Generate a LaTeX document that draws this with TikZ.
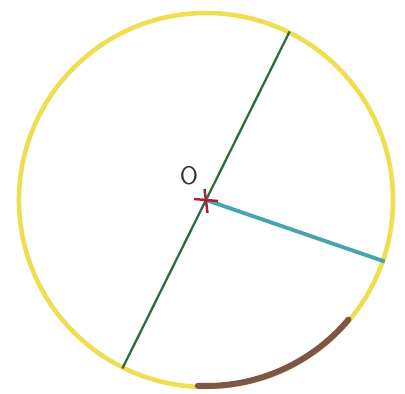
\documentclass[tikz,border=0pt]{standalone}
\usepackage{tikz}
\usetikzlibrary{positioning,calc}

\definecolor{pencilyellow}{RGB}{238,222,80}
\definecolor{pencilgreen}{RGB}{40,110,60}
\definecolor{pencilcyan}{RGB}{70,165,175}
\definecolor{pencilbrown}{RGB}{125,85,75}
\definecolor{pencilred}{RGB}{165,35,55}

\begin{document}
\begin{tikzpicture}[
    rim/.style={draw=pencilyellow, line width=2.6pt},
    diameter/.style={draw=pencilgreen, line width=1.3pt},
    radius/.style={draw=pencilcyan, line width=2.2pt},
    arcpart/.style={draw=pencilbrown, line width=3.4pt, line cap=round},
    centremark/.style={draw=pencilred, line width=1.4pt},
    label/.style={font=\sffamily\Large, text=black!80}
  ]

  \useasboundingbox (-4.12,-3.88) rectangle (3.98,4.0);

  % Centre and circle
  \coordinate (O) at (0,0);
  \draw[rim] (O) circle (3.74);

  % Points on the circle
  \coordinate (d1) at (63.6:3.76);
  \coordinate (d2) at (243.6:3.76);
  \coordinate (r1) at (-19:3.78);

  % Diameter and radius
  \draw[diameter] (d2) -- (d1);
  \draw[radius] (O) -- (r1);

  % Arc
  \draw[arcpart] (-92.5:3.72) arc (-92.5:-40:3.72);

  % Centre mark
  \draw[centremark] ($(O)+(-0.24,0.02)$) -- ($(O)+(0.24,-0.02)$);
  \draw[centremark] ($(O)+(-0.03,0.22)$) -- ($(O)+(0.03,-0.26)$);
  \node[label] (olabel) at (-0.34,0.48) {O};

\end{tikzpicture}
\end{document}
